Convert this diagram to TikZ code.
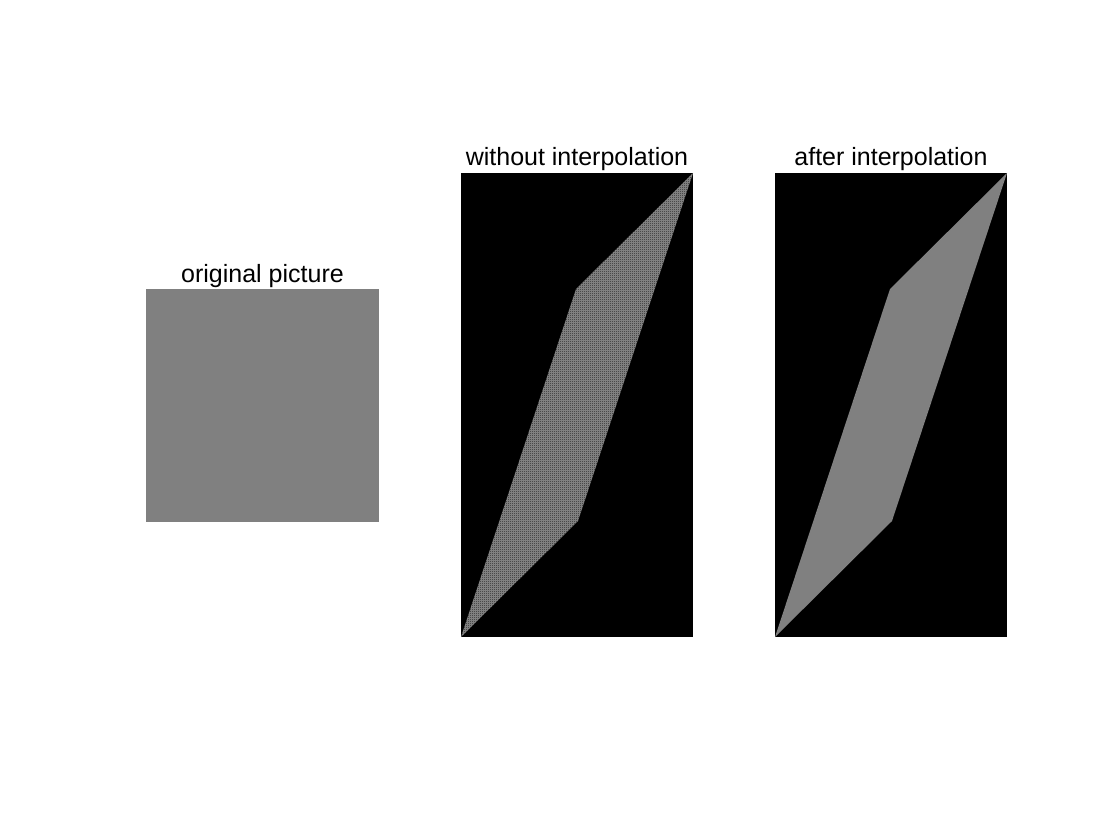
\documentclass[tikz,border=0pt]{standalone}
\usepackage{fontspec}
\setmainfont{Liberation Sans}
\usetikzlibrary{patterns}
\pgfdeclarepatternformonly{pixdots}{\pgfpointorigin}{\pgfqpoint{2pt}{2pt}}{\pgfqpoint{2pt}{2pt}}{%
  \pgfpathrectangle{\pgfpointorigin}{\pgfqpoint{1pt}{1pt}}%
  \pgfusepath{fill}}
\begin{document}
\begin{tikzpicture}[x=1pt,y=-1pt,
  ttl/.style={anchor=base,inner sep=0pt,font=\fontsize{25}{30}\selectfont},
  imgbg/.style={fill=black},
  grayfill/.style={fill=black!50}]
\useasboundingbox (0,0) rectangle (1120,840);
\fill[white] (0,0) rectangle (1120,840);
% panel 1
\fill[grayfill] (146,289) rectangle (379,522);
\node[ttl] (t1) at (262.5,282) {original picture};
% panel 2
\fill[imgbg] (461,173) rectangle (693,637);
\fill[grayfill] (461,637) -- (576,289) -- (693,173) -- (578,521) -- cycle;
\fill[pattern=pixdots,pattern color=black] (461,637) -- (576,289) -- (693,173) -- (578,521) -- cycle;
\node[ttl] (t2) at (577,166) {without interpolation};
% panel 3
\fill[imgbg] (775,173) rectangle (1007,637);
\fill[grayfill] (775,637) -- (890,289) -- (1007,173) -- (892,521) -- cycle;
\node[ttl] (t3) at (891,166) {after interpolation};
\end{tikzpicture}
\end{document}
